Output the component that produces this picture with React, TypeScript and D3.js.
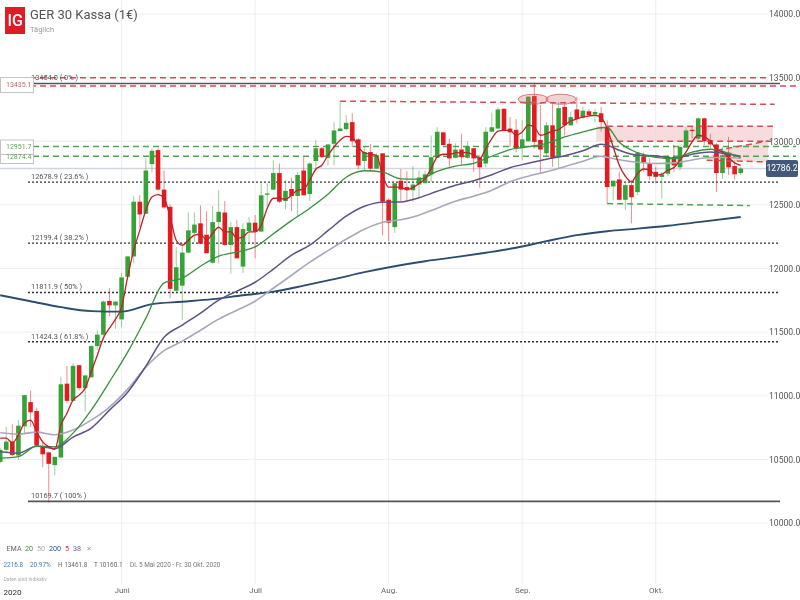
import React, { useRef, useEffect } from "react";
import * as d3 from "d3";

// daily candles, 5 May - 30 Oct 2020
const opens = [10480,10575,10640,10530,10760,10950,10880,10600,10555,10455,10515,11095,10960,11240,11060,11145,11390,11480,11745,11710,11600,11935,12095,12525,12430,12820,12930,12620,12485,11825,11865,12125,12280,12355,12265,12045,12365,12440,12185,12325,12015,12295,12360,12290,12580,12620,12750,12530,12625,12570,12770,12585,12845,12945,12870,12980,13080,13095,13150,13015,12845,12915,12785,12905,12540,12325,12690,12640,12615,12660,12670,12740,12870,13070,12980,12870,12935,12870,12945,12875,12825,13075,13100,13255,13100,13090,12945,13000,13355,13010,12905,13125,12880,13270,13125,13250,13185,13235,13210,13220,13110,12645,12700,12540,12655,12600,12880,12825,12760,12720,12745,12875,12795,12950,13090,13020,13180,13010,12975,12750,12910,12805,12750];
const highs = [10590,10755,10775,10810,11005,11040,10905,10650,10560,10520,11150,11235,11255,11240,11160,11400,11515,11750,11845,11740,11965,12095,12570,12575,12865,12945,12945,12770,12505,12170,12200,12440,12440,12495,12450,12490,12615,12530,12365,12380,12355,12405,12420,12670,12670,12850,12825,12695,12715,12760,12875,12835,13010,12955,12975,13150,13315,13205,13220,13025,12955,12980,12905,12905,12550,12670,12780,12765,12805,12770,12770,13045,13110,13070,13020,12985,13060,13000,12945,12890,13110,13225,13265,13260,13190,13175,13165,13355,13462,13285,13150,13310,13310,13310,13230,13350,13270,13255,13255,13270,13165,12690,12760,12680,12695,12910,12910,12865,12800,12760,12890,12970,12970,13110,13125,13185,13185,13060,12985,12955,13035,12850,12800];
const lows = [10470,10555,10525,10495,10705,10755,10595,10440,10160,10375,10505,10940,10960,11040,10875,11145,11360,11435,11625,11525,11540,11910,12040,12325,12430,12755,12615,12470,11765,11805,11595,12120,12210,12195,12120,12040,12040,12180,11960,12080,11965,12200,12080,12290,12480,12615,12515,12465,12450,12410,12575,12530,12770,12870,12810,12810,13080,13085,12955,12780,12770,12760,12785,12260,12215,12280,12530,12525,12525,12560,12670,12680,12870,12970,12800,12865,12805,12865,12760,12635,12795,13075,13100,13080,12955,12915,12850,12995,12945,12745,12875,12800,12785,13045,13125,13140,13175,13190,13150,13075,12510,12535,12535,12460,12355,12575,12760,12695,12670,12550,12725,12760,12770,12945,13020,13010,12970,12945,12600,12705,12735,12700,12735];
const closes = [10575,10640,10535,10765,11005,10870,10610,10540,10465,10520,11090,10960,11235,11060,11160,11390,11480,11740,11710,11740,11930,12095,12525,12425,12770,12925,12620,12480,11840,12010,12125,12300,12345,12195,12120,12365,12445,12185,12325,12080,12310,12360,12290,12575,12590,12750,12525,12610,12570,12735,12575,12825,12945,12875,12975,13085,13100,13145,13000,12810,12915,12785,12890,12525,12360,12670,12620,12615,12660,12715,12740,12875,13075,12970,12865,12935,12875,12960,12865,12795,13075,13110,13250,13085,13070,12945,13015,13350,12995,12935,13125,12870,13260,13125,13190,13175,13240,13205,13230,13150,12640,12690,12540,12655,12560,12910,12835,12725,12720,12740,12880,12810,12955,13085,13080,13180,13000,12975,12750,12890,12795,12740,12786.2];

// EMA readings
const ema5 = [10667,10667,10630,10691,10785,10808,10717,10638,10599,10578,10769,10863,10966,11005,11060,11188,11319,11453,11531,11602,11696,11934,12144,12301,12458,12562,12581,12552,12405,12222,12183,12222,12262,12269,12222,12277,12324,12288,12288,12238,12248,12288,12288,12340,12474,12552,12552,12544,12576,12615,12623,12694,12780,12811,12890,12955,13008,13039,13034,12955,12908,12898,12890,12733,12639,12641,12636,12621,12636,12668,12707,12786,12877,12898,12898,12908,12911,12911,12890,12864,12943,13021,13079,13086,13086,13047,13073,13126,13112,13047,13060,13081,13092,13126,13159,13175,13191,13199,13204,13186,13100,12955,12811,12725,12680,12746,12782,12772,12733,12741,12772,12793,12851,12916,12995,13047,13034,13002,12935,12916,12872,12830,12811];
const emaDays = [0,3,6,9,12,15,18,21,24,27,30,33,36,39,42,45,48,51,54,57,60,63,66,69,72,75,78,81,84,87,90,93,96,99,100,102,105,108,111,114,117,120,122];
const ema20 = [10510,10522,10604,10599,10706,10887,11109,11343,11610,11887,11924,12018,12097,12130,12170,12273,12376,12474,12584,12717,12768,12757,12705,12702,12764,12804,12827,12882,12935,12957,12984,13035,13073,13106,13108,12992,12910,12874,12863,12914,12937,12906,12872];
const ema38 = [10559,10549,10604,10585,10675,10746,10887,11028,11233,11460,11555,11649,11751,11822,11892,11995,12105,12183,12297,12411,12489,12521,12523,12556,12607,12654,12690,12737,12792,12827,12859,12886,12925,12976,12969,12929,12890,12886,12866,12898,12916,12898,12882];
const ema50 = [10709,10698,10714,10693,10730,10808,10911,11052,11225,11354,11429,11515,11602,11672,11743,11845,11947,12050,12140,12230,12309,12364,12383,12419,12474,12529,12568,12615,12682,12725,12760,12800,12843,12882,12874,12855,12835,12825,12830,12853,12872,12872,12864];
const ema200Days = [0,5,10,15,20,25,30,35,40,45,50,55,60,65,70,75,80,85,90,95,100,105,110,115,122];
const ema200 = [11790,11743,11696,11665,11661,11720,11739,11759,11790,11818,11865,11916,11971,12018,12057,12089,12124,12163,12215,12262,12293,12313,12336,12364,12405];

const priceTicks = [14000,13500,13000,12500,12000,11500,11000,10500,10000];
const monthDays = [20,42,64,86,108];
const monthLabels = ["Juni","Juli","Aug.","Sep.","Okt."];

const fibValues = [13454,12678.9,12199.4,11811.9,11424.3,10169.7];
const fibLabels = ["13454.0 ( 0% )","12678.9 ( 23.6% )","12199.4 ( 38.2% )","11811.9 ( 50% )","11424.3 ( 61.8% )","10169.7 ( 100% )"];
const redLevels = [13500,13435.1];
const greenLevels = [12951.7,12874.4];
const lastPrice = 12786.2;

const FONT = "Roboto, sans-serif";
const GREEN = "#37a237";
const RED = "#e31a20";
const DASH_RED = "#cf4f55";
const DASH_GREEN = "#4da64d";

const App: React.FC = () => {
  const svgRef = useRef<SVGSVGElement>(null);

  useEffect(() => {
    const svg = d3.select(svgRef.current);
    svg.selectAll("*").remove();

    const x = d3.scaleLinear().domain([0, 122]).range([0.2, 740.7]);
    const y = d3.scaleLinear().domain([10000, 14000]).range([523, 14]);

    // grid
    svg.append("g").selectAll("line").data(priceTicks).join("line")
      .attr("x1", 0).attr("x2", 768)
      .attr("y1", (d) => y(d)).attr("y2", (d) => y(d))
      .attr("stroke", "#eeeeee");
    svg.append("g").selectAll("line").data(monthDays).join("line")
      .attr("x1", (d) => x(d)).attr("x2", (d) => x(d))
      .attr("y1", 0).attr("y2", 584)
      .attr("stroke", "#eeeeee");

    // resistance zones
    const zones = svg.append("g");
    zones.append("rect")
      .attr("x", x(98.2)).attr("width", x(127.3) - x(98.2))
      .attr("y", y(13118)).attr("height", y(13000) - y(13118))
      .attr("fill", "#f3d0d0").attr("opacity", 0.75);
    const wedge = d3.line<[number, number]>().x((d) => x(d[0])).y((d) => y(d[1]));
    zones.append("path")
      .attr("d", wedge([[118, 12929], [126.5, 13002], [126.5, 12837], [116.4, 12851]]) + "Z")
      .attr("fill", "#f3d0d0").attr("opacity", 0.75);

    // current price line
    svg.append("line")
      .attr("x1", 0).attr("x2", 766)
      .attr("y1", y(lastPrice)).attr("y2", y(lastPrice))
      .attr("stroke", "#d0d5de").attr("stroke-width", 1.5);

    // fibonacci levels
    svg.append("g").selectAll("line").data(fibValues).join("line")
      .attr("x1", 28).attr("x2", 780)
      .attr("y1", (d) => y(d)).attr("y2", (d) => y(d))
      .attr("stroke", (d, i) => (i === 0 || i === 5 ? "#555" : "#333"))
      .attr("stroke-width", (d, i) => (i === 0 || i === 5 ? 1.6 : 1.4))
      .attr("stroke-dasharray", (d, i) => (i === 0 || i === 5 ? null : "2 2"));

    // horizontal levels
    svg.append("g").selectAll("line").data(redLevels).join("line")
      .attr("x1", 0).attr("x2", (d, i) => (i === 0 ? 768 : 796))
      .attr("y1", (d) => y(d)).attr("y2", (d) => y(d))
      .attr("stroke", DASH_RED).attr("stroke-width", 1.5).attr("stroke-dasharray", "6 4");
    svg.append("g").selectAll("line").data(greenLevels).join("line")
      .attr("x1", 33).attr("x2", 796)
      .attr("y1", (d) => y(d) - 1).attr("y2", (d) => y(d) - 1)
      .attr("stroke", DASH_GREEN).attr("stroke-width", 1.5).attr("stroke-dasharray", "6 4");

    // candles
    const days = d3.range(closes.length);
    const bodyW = 4.6;
    const candles = svg.append("g");
    candles.selectAll("line").data(days).join("line")
      .attr("x1", (i) => x(i)).attr("x2", (i) => x(i))
      .attr("y1", (i) => y(highs[i])).attr("y2", (i) => y(lows[i]))
      .attr("stroke", (i) => (closes[i] >= opens[i] ? GREEN : RED))
      .attr("stroke-opacity", 0.5);
    candles.selectAll("rect").data(days).join("rect")
      .attr("x", (i) => x(i) - bodyW / 2)
      .attr("width", bodyW)
      .attr("y", (i) => y(Math.max(opens[i], closes[i])))
      .attr("height", (i) => Math.max(1, Math.abs(y(opens[i]) - y(closes[i]))))
      .attr("fill", (i) => (closes[i] >= opens[i] ? GREEN : RED));

    // trend lines
    const trend = (a: [number, number], b: [number, number], color: string) =>
      svg.append("line")
        .attr("x1", x(a[0])).attr("y1", y(a[1]))
        .attr("x2", x(b[0])).attr("y2", y(b[1]))
        .attr("stroke", color).attr("stroke-width", 1.5).attr("stroke-dasharray", "6 4");
    trend([56, 13315], [127.6, 13290], DASH_RED);
    trend([100, 12510], [123.5, 12495], DASH_GREEN);
    trend([100, 13118], [127.3, 13118], DASH_RED);
    trend([100, 13000], [127, 13000], DASH_RED);
    trend([118, 12929], [126.5, 13002], DASH_RED);
    trend([116.4, 12851], [126.5, 12837], DASH_RED);

    // double top ovals
    svg.append("g").selectAll("ellipse").data([87.8, 92.4]).join("ellipse")
      .attr("cx", (d) => x(d)).attr("cy", y(13330))
      .attr("rx", 15).attr("ry", 5)
      .attr("fill", "#dc6a6a").attr("fill-opacity", 0.3)
      .attr("stroke", DASH_RED).attr("stroke-width", 0.7);

    // EMAs
    const curve = d3.line<[number, number]>()
      .x((d) => x(d[0])).y((d) => y(d[1])).curve(d3.curveMonotoneX);
    const series: [number[], number[], string, number][] = [
      [ema200Days, ema200, "#2c4d70", 1.9],
      [emaDays, ema50, "#a9a7b9", 1.6],
      [emaDays, ema38, "#5f5285", 1.5],
      [emaDays, ema20, "#3b8f3e", 1.3],
      [days, ema5, "#bf2229", 1.3],
    ];
    svg.append("g").selectAll("path").data(series).join("path")
      .attr("fill", "none")
      .attr("stroke", (s) => s[2])
      .attr("stroke-width", (s) => s[3])
      .attr("d", (s) => curve(s[0].map((d, i) => [d, s[1][i]] as [number, number])));

    // fib labels
    svg.append("g").selectAll("text").data(fibValues).join("text")
      .attr("x", 31).attr("y", (d) => y(d) - 3)
      .attr("font-family", FONT).attr("font-size", 7.4).attr("fill", "#555")
      .text((d, i) => fibLabels[i]);

    // level tags on the left
    const tags: [number, string, number, number][] = [
      [13435.1, "#c8666a", 77.5, 15],
      [12951.7, "#5aa85a", 140, 14.5],
      [12874.4, "#5aa85a", 154.5, 9],
    ];
    const tagG = svg.append("g").selectAll("g").data(tags).join("g");
    tagG.append("rect")
      .attr("x", 0.5).attr("width", 33)
      .attr("y", (d) => d[2]).attr("height", (d) => d[3])
      .attr("fill", "#fff").attr("stroke", "#c4c4c4");
    tagG.append("text")
      .attr("x", 6).attr("y", (d) => y(d[0]) + 1.5)
      .attr("font-family", FONT).attr("font-size", 7)
      .attr("fill", (d) => d[1])
      .text((d) => d[0].toFixed(1));

    // price axis
    const yAxis = svg.append("g")
      .attr("transform", "translate(769,0)")
      .call(d3.axisRight(y).tickValues(priceTicks).tickSize(0).tickPadding(0).tickFormat(d3.format(".1f") as any));
    yAxis.select(".domain").remove();
    yAxis.selectAll("text")
      .attr("font-family", FONT).attr("font-size", 8.6).attr("fill", "#555");

    // last price tag
    svg.append("rect")
      .attr("x", 766).attr("y", y(lastPrice) - 8.5)
      .attr("width", 32).attr("height", 17).attr("rx", 2)
      .attr("fill", "#44597a");
    svg.append("text")
      .attr("x", 782).attr("y", y(lastPrice) + 3)
      .attr("text-anchor", "middle")
      .attr("font-family", FONT).attr("font-size", 8.6).attr("fill", "#fff")
      .text(lastPrice.toFixed(1));

    // month axis
    const xAxis = svg.append("g")
      .attr("transform", "translate(0,584)")
      .call(d3.axisBottom(x).tickValues(monthDays).tickSize(0).tickPadding(3)
        .tickFormat((d, i) => monthLabels[i]));
    xAxis.select(".domain").remove();
    xAxis.selectAll("text")
      .attr("font-family", FONT).attr("font-size", 8).attr("fill", "#666");

    // header
    const text = (tx: number, ty: number, s: string, size: number, fill: string, weight = 400) =>
      svg.append("text")
        .attr("x", tx).attr("y", ty)
        .attr("font-family", FONT).attr("font-size", size)
        .attr("font-weight", weight).attr("fill", fill)
        .text(s);

    svg.append("rect").attr("x", 5).attr("y", 7).attr("width", 20).attr("height", 27).attr("fill", "#e01b24");
    text(7.5, 26, "IG", 16, "#fff", 500);
    text(30, 19, "GER 30 Kassa (1€)", 13, "#555");
    text(30, 32, "Täglich", 7.5, "#999");

    // legend
    text(6.5, 550.5, "EMA", 7.2, "#666");
    text(25, 550.5, "20", 7.2, "#3b8f3e");
    text(37, 550.5, "50", 7.2, "#aaa");
    text(49, 550.5, "200", 7.2, "#2c5a8c");
    text(65, 550.5, "5", 7.2, "#d0323a");
    text(73, 550.5, "38", 7.2, "#6d5f92");
    text(87, 550.5, "×", 8, "#999");
    text(3.5, 566.5, "2216.8", 6.4, "#3a7fc4");
    text(30, 566.5, "20.97%", 6.4, "#3a7fc4");
    text(58, 566.5, "H 13461.8", 6.4, "#666");
    text(94, 566.5, "T 10160.1", 6.4, "#666");
    text(130, 566.5, "Di. 5 Mai 2020 - Fr. 30 Okt. 2020", 6.4, "#777");
    text(3.5, 581, "Daten sind indikativ", 5, "#aaa");
    text(3.5, 595, "2020", 8, "#333");
  }, []);

  return (
    <svg
      ref={svgRef}
      width={800}
      height={600}
      style={{ position: "absolute", left: 0, top: 0, background: "#fff", filter: "blur(0.35px)" }}
    />
  );
};

export default App;
